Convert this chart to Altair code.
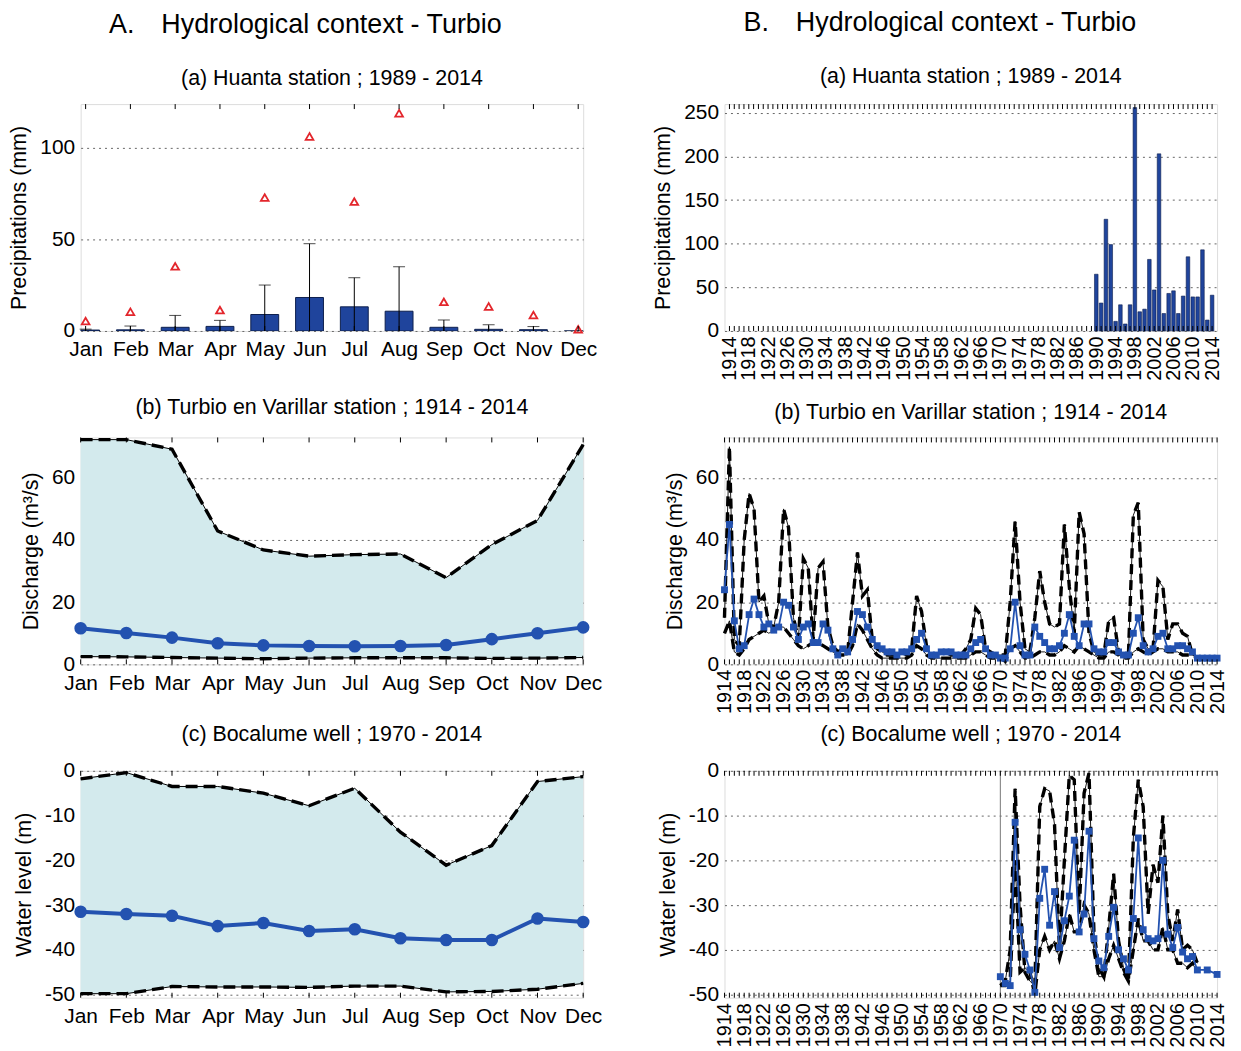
import json
import altair as alt
import pandas as pd

FONT = "Liberation Sans"
BLUE = "#2352b0"
BAR = "#1f449c"
FILL = "#d3eaed"
W_A, W_B, H = 505, 495, 228
GAP_COL = 142

# ---------------- data: column A (monthly statistics) ----------------
months = ["Jan", "Feb", "Mar", "Apr", "May", "Jun", "Jul", "Aug", "Sep", "Oct", "Nov", "Dec"]
pr_mean = [0.5, 0.6, 2.0, 2.5, 9.0, 18.3, 13.2, 10.8, 2.0, 0.9, 0.7, 0.0]
pr_err_top = [1.0, 2.7, 8.5, 5.8, 25.1, 47.7, 29.1, 35.1, 6.0, 3.4, 2.4, 0.0]
pr_max = [5.4, 10.5, 35.3, 11.4, 72.9, 106.3, 70.7, 119.0, 15.9, 13.4, 8.7, 0.9]

q_max = [72.3, 72.3, 69.2, 42.9, 36.8, 34.8, 35.3, 35.5, 27.9, 38.5, 46.3, 70.7]
q_mean = [11.6, 10.1, 8.6, 6.8, 6.1, 5.9, 5.8, 5.9, 6.2, 8.1, 10.0, 11.9]
q_min = [2.5, 2.4, 2.2, 2.0, 1.8, 2.0, 2.1, 2.1, 2.1, 1.9, 2.0, 2.2]

wl_max = [-1.8, -0.4, -3.5, -3.5, -5.0, -7.8, -3.9, -13.7, -21.1, -16.7, -2.4, -1.3]
wl_mean = [-31.5, -32.0, -32.4, -34.7, -34.0, -35.8, -35.4, -37.4, -37.8, -37.8, -33.0, -33.8]
wl_min = [-49.8, -49.8, -48.2, -48.3, -48.3, -48.4, -48.1, -48.1, -49.4, -49.3, -48.8, -47.5]

# ---------------- data: column B (yearly series) ----------------
p_years = list(range(1990, 2015))
p_values = [65, 32, 128, 99, 11, 30, 8, 30, 256, 22, 25, 82, 47, 203, 20, 43,
            46, 20, 40, 85, 39, 39, 93, 12.5, 41]

q_years = list(range(1914, 2015))
qy_upper = [15, 70, 8, 6, 40, 55, 50, 20, 22, 13, 12, 20, 50, 44, 15, 8, 34, 31, 8, 31,
            33, 12, 6, 4, 5, 4, 20, 36, 22, 24, 8, 5, 4, 3, 3, 3, 4, 3, 5, 22,
            17, 6, 3, 3, 4, 4, 3, 3, 3, 5, 8, 18, 16, 5, 4, 3, 3, 3, 20, 46,
            20, 5, 4, 15, 30, 20, 13, 12, 13, 45, 25, 10, 49, 42, 10, 4, 3, 3, 14, 15,
            4, 3, 3, 48, 52, 8, 5, 5, 27, 25, 8, 13, 13, 10, 9, 3, 2, 2, 2, 2, 2]
qy_mean = [24, 45, 14, 5, 6, 16, 21, 16, 12, 13, 11, 12, 20, 19, 12, 8, 12, 13, 7, 7,
           13, 11, 5, 3, 5, 4, 8, 17, 16, 12, 8, 6, 5, 4, 4, 3, 4, 4, 5, 8,
           10, 5, 3, 3, 4, 4, 4, 3, 3, 3, 5, 7, 8, 5, 3, 3, 2, 2, 5, 20,
           6, 3, 3, 12, 9, 7, 5, 5, 6, 10, 16, 9, 6, 13, 13, 5, 4, 4, 7, 7,
           4, 3, 3, 10, 15, 6, 4, 5, 9, 10, 5, 5, 6, 6, 5, 4, 2, 2, 2, 2, 2]
qy_lower = [10, 14, 4, 3, 5, 8, 9, 10, 11, 10, 11, 12, 12, 10, 8, 6, 5, 6, 7, 7,
            6, 5, 4, 3, 3, 3, 6, 13, 11, 8, 5, 3, 2, 2, 2, 2, 2, 2, 3, 6,
            5, 3, 2, 2, 2, 2, 2, 2, 2, 2, 3, 4, 4, 3, 2, 2, 2, 1, 5, 6,
            4, 2, 2, 3, 4, 4, 3, 3, 4, 6, 5, 4, 6, 5, 4, 3, 2, 2, 4, 4,
            3, 2, 2, 4, 5, 4, 3, 4, 5, 5, 4, 4, 4, 3, 3, 3, 2, 2, 1.5, 1.5, 1.5]

w_years = list(range(1970, 2011))
wy_upper = [-48, -47, -40, -4, -30, -45, -47, -48, -8, -4, -4.5, -12, -40, -20, -1, -2,
            -32, -5, -0.5, -36, -44, -46, -35, -23, -38, -44, -47, -15, -2, -8, -32,
            -21, -25, -10, -32, -38, -31, -40, -39, -40, -43]
wy_lower = [-48, -48, -47, -20, -45, -44, -45, -50, -40, -37, -40, -38, -42, -38, -32, -36,
            -36, -30, -32, -40, -46, -46, -42, -39, -42, -45, -47, -40, -33, -38, -38,
            -40, -40, -35, -40, -40, -43, -43, -44, -43, -45]
wm_years = list(range(1970, 2011)) + [2012, 2014]
wy_mean = [-46, -47.5, -48, -11.5, -35.5, -41, -44.5, -49.5, -28.5, -22, -34.5, -27, -39.5,
           -33.5, -28, -15.5, -36, -32, -13.5, -37.5, -42.5, -44, -37, -30.5, -40, -42,
           -44.5, -33, -15, -35.5, -37.5, -38, -37.5, -20, -36.5, -39.5, -35, -40.5, -42,
           -41.5, -44.5, -44.5, -45.5]

year_ticks = list(range(1914, 2015, 4))
minor_years = list(range(1914, 2015))

# ---------------- helpers ----------------
def yaxis(title, values):
    return alt.Axis(title=title, values=values, grid=True, gridDash=[2, 4], gridColor="#666",
                    gridWidth=1, ticks=False, domain=False, labelFontSize=21, titleFontSize=21.5,
                    titleFontWeight="normal", labelPadding=6, titlePadding=9,
                    labelExpr="datum.value + ''",
                    labelColor="black", titleColor="black", labelFont=FONT, titleFont=FONT)

month_idx = list(range(len(months)))
xaxisA = alt.Axis(title=None, ticks=False, domain=False, grid=False, labelFontSize=21,
                  values=month_idx, labelExpr=json.dumps(months) + "[datum.value]",
                  labelAngle=0, labelPadding=8, labelColor="black", labelFont=FONT,
                  labelOverlap=False, labelFlush=False)
xaxisB = alt.Axis(title=None, ticks=False, domain=False, grid=False, values=year_ticks,
                  format="d", labelFontSize=20, labelAngle=270, labelPadding=5,
                  labelColor="black", labelFont=FONT, labelOverlap=False, labelFlush=False)

def ptitle(t):
    return alt.TitleParams(t, fontSize=21.5, font=FONT, fontWeight="normal", offset=14,
                           anchor="middle", color="black")

xA_scale = alt.Scale(domain=[0, len(months) - 1], nice=False, zero=False)
xA = alt.X("idx:Q", scale=xA_scale, axis=xaxisA)
xB_scale = alt.Scale(domain=[1914, 2014], nice=False, zero=False)
xB = alt.X("year:Q", scale=xB_scale, axis=xaxisB)

def month_df(**cols):
    d = pd.DataFrame(cols)
    d.insert(0, "month", months)
    d.insert(1, "idx", month_idx)
    return d

def ticksA():
    d = pd.DataFrame({"idx": month_idx})
    bottom = alt.Chart(d).mark_rule(color="black", strokeWidth=1).encode(
        x=xA, y=alt.value(H), y2=alt.value(H - 5))
    top = alt.Chart(d).mark_rule(color="black", strokeWidth=1).encode(
        x=xA, y=alt.value(0), y2=alt.value(5))
    return [bottom, top]

def ticksB():
    d = pd.DataFrame({"year": minor_years})
    bottom = alt.Chart(d).mark_rule(color="black", strokeWidth=1).encode(
        x=xB, y=alt.value(H), y2=alt.value(H - 5))
    top = alt.Chart(d).mark_rule(color="black", strokeWidth=1).encode(
        x=xB, y=alt.value(0), y2=alt.value(5))
    return [bottom, top]

def envelope_A(df, ydom, yvals, ytitle):
    y_sc = alt.Scale(domain=ydom, nice=False, zero=False)
    base = alt.Chart(df)
    area = base.mark_area(color=FILL, opacity=1, orient="vertical").encode(
        x=xA, y=alt.Y("vmax:Q", scale=y_sc, axis=yaxis(ytitle, yvals)), y2="vmin:Q")
    layers = [area]
    for f in ["vmax", "vmin"]:
        layers.append(base.mark_line(color="black", strokeWidth=1).encode(
            x=xA, y=alt.Y(f + ":Q", scale=y_sc)))
        layers.append(base.mark_line(color="black", strokeWidth=3.4, strokeDash=[12, 6]).encode(
            x=xA, y=alt.Y(f + ":Q", scale=y_sc)))
    layers.append(base.mark_line(color=BLUE, strokeWidth=4).encode(
        x=xA, y=alt.Y("vmean:Q", scale=y_sc)))
    layers.append(base.mark_point(color=BLUE, filled=True, size=160, opacity=1, shape="circle").encode(
        x=xA, y=alt.Y("vmean:Q", scale=y_sc)))
    layers += ticksA()
    return alt.layer(*layers)

# ---------------- A(a) ----------------
dfa = month_df(mean=pr_mean, top=pr_err_top, vmax=pr_max)
dfa["zero"] = 0.0
ysc_a = alt.Scale(domain=[0, 124], nice=False, zero=False)
dfe = dfa[dfa["top"] > 0]
A_a = alt.layer(
    alt.Chart(dfa).mark_bar(size=28, orient="vertical", color=BAR, stroke="#0d1f4d",
                            strokeWidth=1, clip=True).encode(
        x=xA, y=alt.Y("mean:Q", scale=ysc_a, axis=yaxis("Precipitations (mm)", [0, 50, 100]))),
    alt.Chart(dfe).mark_rule(color="black", strokeWidth=1).encode(
        x=xA, y=alt.Y("zero:Q", scale=ysc_a), y2="top:Q"),
    alt.Chart(dfe).mark_tick(color="black", size=12, thickness=1, orient="horizontal").encode(
        x=xA, y=alt.Y("top:Q", scale=ysc_a)),
    alt.Chart(dfa).mark_point(shape="triangle-up", color="#e3262c", filled=False, size=60,
                              strokeWidth=1.8, opacity=1).encode(
        x=xA, y=alt.Y("vmax:Q", scale=ysc_a)),
    *ticksA(),
).properties(width=W_A, height=H, title=ptitle("(a) Huanta station ; 1989 - 2014"))

# ---------------- A(b) ----------------
A_b = envelope_A(month_df(vmax=q_max, vmean=q_mean, vmin=q_min), [0, 73], [0, 20, 40, 60],
                 "Discharge (m³/s)").properties(
    width=W_A, height=H, title=ptitle("(b) Turbio en Varillar station ; 1914 - 2014"))

# ---------------- A(c) ----------------
A_c = envelope_A(month_df(vmax=wl_max, vmean=wl_mean, vmin=wl_min), [-50.7, 0],
                 [0, -10, -20, -30, -40, -50], "Water level (m)").properties(
    width=W_A, height=H, title=ptitle("(c) Bocalume well ; 1970 - 2014"))

# ---------------- B(a) ----------------
dpa = pd.DataFrame({"year": p_years, "p": p_values})
B_a = alt.layer(
    alt.Chart(dpa).mark_bar(size=3.6, orient="vertical", color=BAR, stroke="#0d1f4d",
                            strokeWidth=0.6).encode(
        x=xB,
        y=alt.Y("p:Q", scale=alt.Scale(domain=[0, 260], nice=False),
                axis=yaxis("Precipitations (mm)", [0, 50, 100, 150, 200, 250]))),
    *ticksB(),
).properties(width=W_B, height=H, title=ptitle("(a) Huanta station ; 1989 - 2014"))

# ---------------- B(b) / B(c) ----------------
def envelope_B(years, up, low, myears, mean, ydom, yvals, ytitle, extra=None):
    y_sc = alt.Scale(domain=ydom, nice=False, zero=False)
    d = pd.DataFrame({"year": years, "up": up, "low": low})
    dm = pd.DataFrame({"year": myears, "mean": mean})
    layers = []
    if extra is not None:
        layers.append(extra)
    first = True
    for f in ["up", "low"]:
        if first:
            yenc = alt.Y(f + ":Q", scale=y_sc, axis=yaxis(ytitle, yvals))
        else:
            yenc = alt.Y(f + ":Q", scale=y_sc)
        first = False
        layers.append(alt.Chart(d).mark_line(color="black", strokeWidth=0.9).encode(x=xB, y=yenc))
        layers.append(alt.Chart(d).mark_line(color="black", strokeWidth=3.4, strokeDash=[10, 6]).encode(
            x=xB, y=alt.Y(f + ":Q", scale=y_sc)))
    layers.append(alt.Chart(dm).mark_line(color=BLUE, strokeWidth=1.8).encode(
        x=xB, y=alt.Y("mean:Q", scale=y_sc)))
    layers.append(alt.Chart(dm).mark_point(color=BLUE, filled=True, size=48, opacity=1, shape="square").encode(
        x=xB, y=alt.Y("mean:Q", scale=y_sc)))
    layers += ticksB()
    return alt.layer(*layers)

B_b = envelope_B(q_years, qy_upper, qy_lower, q_years, qy_mean, [0, 73], [0, 20, 40, 60],
                 "Discharge (m³/s)").properties(
    width=W_B, height=H, title=ptitle("(b) Turbio en Varillar station ; 1914 - 2014"))

start_rule = alt.Chart(pd.DataFrame({"year": [1970]})).mark_rule(color="#777", strokeWidth=1).encode(
    x=xB, y=alt.value(0), y2=alt.value(H))
B_c = envelope_B(w_years, wy_upper, wy_lower, wm_years, wy_mean, [-50.7, 0],
                 [0, -10, -20, -30, -40, -50], "Water level (m)", extra=start_rule).properties(
    width=W_B, height=H, title=ptitle("(c) Bocalume well ; 1970 - 2014"))

def coltitle(t):
    return alt.TitleParams(t, fontSize=27, font=FONT, fontWeight="normal", offset=29,
                           anchor="middle", color="black")

colA = alt.vconcat(A_a, A_b, A_c, spacing=107, bounds="flush",
                   title=coltitle("A.\u2003Hydrological context - Turbio"))
colB = alt.vconcat(B_a, B_b, B_c, spacing=107, bounds="flush",
                   title=coltitle("B.\u2003Hydrological context - Turbio"))

# with flush bounds the nested column counts as zero width, so the spacing
# is measured from the left edge of column A's plots
chart = alt.hconcat(colA, colB, spacing=W_A + GAP_COL, bounds="flush").configure_view(
    stroke="black", strokeWidth=1).configure(font=FONT, padding={"left": 0, "top": -2, "right": 5, "bottom": 0}
).configure_axis(labelFont=FONT, titleFont=FONT)

chart.save("out.html", embed_options={"renderer": "svg", "actions": False})
